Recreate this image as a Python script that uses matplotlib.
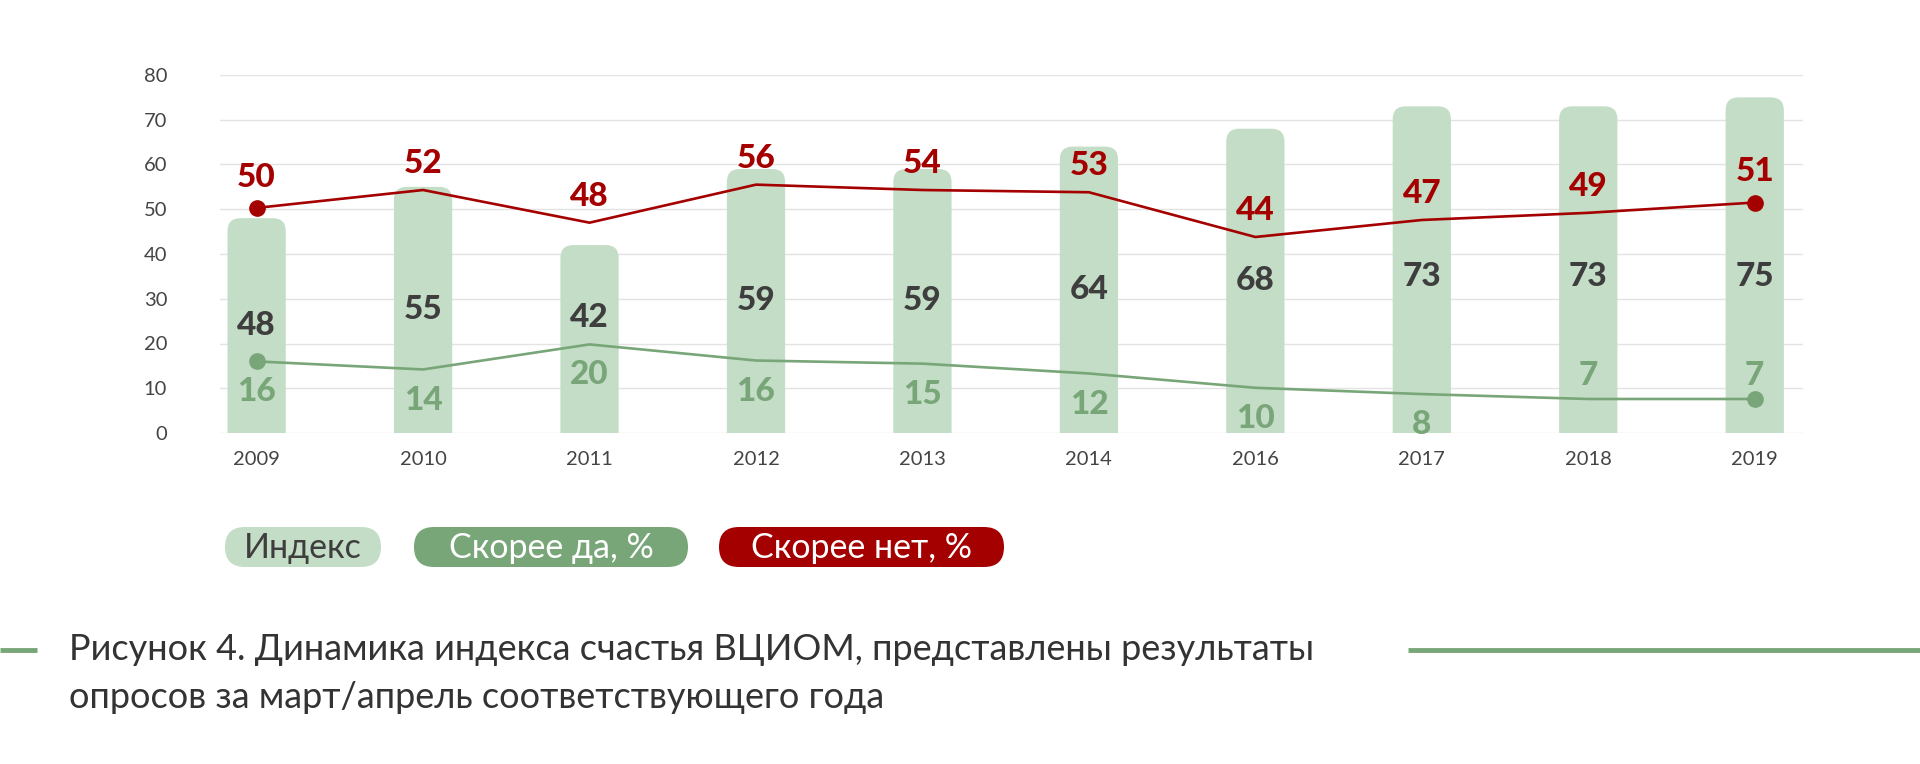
import matplotlib
matplotlib.use("Agg")
import matplotlib.pyplot as plt
from matplotlib.patches import FancyBboxPatch

years = ["2009", "2010", "2011", "2012", "2013", "2014", "2016", "2017", "2018", "2019"]
index_vals = [48, 55, 42, 59, 59, 64, 68, 73, 73, 75]
yes_labels = [16, 14, 20, 16, 15, 12, 10, 8, 7, 7]
no_labels = [50, 52, 48, 56, 54, 53, 44, 47, 49, 51]
# line positions as drawn in the picture
yes_line = [16, 14.2, 19.8, 16.2, 15.5, 13.3, 10.1, 8.7, 7.6, 7.6]
no_line = [50.3, 54.3, 47, 55.5, 54.3, 53.8, 43.8, 47.6, 49.2, 51.5]

legend_names = ["Индекс", "Скорее да, %", "Скорее нет, %"]
caption = ["Рисунок 4. Динамика индекса счастья ВЦИОМ, представлены результаты",
           "опросов за март/апрель соответствующего года"]

RED = "#a50000"
GREEN = "#78a678"
BAR = "#c4ddc6"
DARK = "#3e3e3e"
FONT = "Lato"

W, H = 1920, 764
fig = plt.figure(figsize=(W / 100, H / 100), dpi=100)

ax = fig.add_axes([220 / W, 1 - 433 / H, (1803 - 220) / W, (433 - 75) / H])
x = list(range(len(years)))
ax.set_xlim(-0.22, len(years) - 1 + 0.29)
ax.set_ylim(0, 80)

# rounded-top bars (bottom corners hidden under y=0 by clipping)
px_x = (1803 - 220) / (len(years) - 1 + 0.51)
px_y = (433 - 75) / 80
bw = 0.35
r = 13 / px_x
aspect = px_x / px_y
for xi, v in zip(x, index_vals):
    p = FancyBboxPatch((xi - bw / 2, -10), bw, v + 10,
                       boxstyle="round,pad=0,rounding_size=%f" % r,
                       mutation_aspect=aspect, fc=BAR, ec="none", zorder=1)
    ax.add_patch(p)

ax.plot(x, no_line, color=RED, lw=1.9, zorder=3)
ax.plot([x[0], x[-1]], [no_line[0], no_line[-1]], "o", color=RED, ms=11, zorder=4)
ax.plot(x, yes_line, color=GREEN, lw=1.9, zorder=3)
ax.plot([x[0], x[-1]], [yes_line[0], yes_line[-1]], "o", color=GREEN, ms=11, zorder=4)

NUM = dict(ha="center", va="center", fontsize=24, fontweight="black", family=FONT, zorder=5)
for i in x:
    up = 22 if i in (0, len(x) - 1) else 19
    ax.annotate(str(no_labels[i]), (i, no_line[i]), xytext=(0, up), textcoords="offset points",
                color=RED, **NUM)
    if yes_labels[i] < 8:
        off = 17
    else:
        off = -22
    ax.annotate(str(yes_labels[i]), (i, yes_line[i]), xytext=(0, off), textcoords="offset points",
                color=GREEN, **NUM)
    ypos = min(max(index_vals[i] / 2, yes_line[i] + 6), 35)
    ax.text(i, ypos, str(index_vals[i]), color=DARK, **NUM)

ax.set_yticks(range(0, 81, 10))
ax.set_xticks(x)
ax.set_xticklabels(years)
ax.tick_params(length=0, labelsize=14.5, labelcolor="#444444")
ax.tick_params(axis="y", pad=38)
ax.tick_params(axis="x", pad=13)
for lab in ax.get_xticklabels() + ax.get_yticklabels():
    lab.set_family(FONT)
ax.grid(axis="y", color="#e3e3e3", lw=1)
ax.set_axisbelow(True)
for s in ax.spines.values():
    s.set_visible(False)

# overlay in pixel units for legend pills and caption
ov = fig.add_axes([0, 0, 1, 1], zorder=-1)
ov.set_xlim(0, W)
ov.set_ylim(H, 0)
ov.axis("off")

pills = [(225, 381, BAR, DARK), (414, 688, GREEN, "white"), (719, 1004, RED, "white")]
for (x0, x1, fc, tc), name in zip(pills, legend_names):
    hgt = 40
    ov.add_patch(FancyBboxPatch((x0, 527), x1 - x0, hgt,
                                boxstyle="round,pad=0,rounding_size=20", fc=fc, ec="none"))
    ov.text((x0 + x1) / 2, 548, name, ha="center", va="center", fontsize=24.5,
            color=tc, family=FONT)

ov.plot([0, 37], [650, 650], color=GREEN, lw=3.5, solid_capstyle="butt")
ov.plot([1408, 1920], [650, 650], color=GREEN, lw=3.5, solid_capstyle="butt")
ov.text(69, 650, caption[0], ha="left", va="center", fontsize=26, color="#333333", family=FONT)
ov.text(69, 698, caption[1], ha="left", va="center", fontsize=26, color="#333333", family=FONT)

fig.savefig("out.png", dpi=100, facecolor="white")
